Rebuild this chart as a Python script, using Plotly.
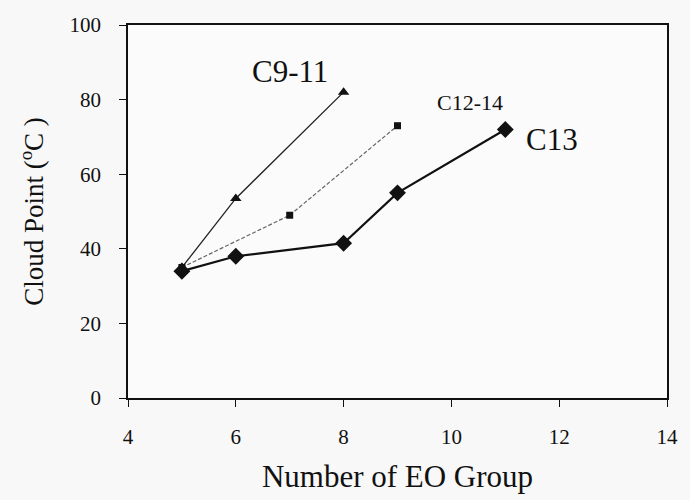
import plotly.graph_objects as go

# Cloud point vs. number of EO groups for three alcohol ethoxylates
eo_c9_11 = [5, 6, 8]
cp_c9_11 = [35, 53.5, 82]

eo_c12_14 = [5, 7, 9]
cp_c12_14 = [35, 49, 73]

eo_c13 = [5, 6, 8, 9, 11]
cp_c13 = [34, 38, 41.5, 55, 72]

x_ticks = [4, 6, 8, 10, 12, 14]
y_ticks = [0, 20, 40, 60, 80, 100]

FONT = "Liberation Serif, Times New Roman, serif"
INK = "#111111"

fig = go.Figure()

fig.add_trace(go.Scatter(
    x=eo_c9_11, y=cp_c9_11, mode="lines+markers", name="C9-11",
    line=dict(color="#222222", width=1.3),
    marker=dict(symbol="triangle-up", size=10, color=INK),
))
fig.add_trace(go.Scatter(
    x=eo_c12_14, y=cp_c12_14, mode="lines+markers", name="C12-14",
    line=dict(color="#666666", width=1.2, dash="4px,2px"),
    marker=dict(symbol="square", size=7, color=INK),
))
fig.add_trace(go.Scatter(
    x=eo_c13, y=cp_c13, mode="lines+markers", name="C13",
    line=dict(color=INK, width=2.2),
    marker=dict(symbol="diamond", size=13, color=INK),
))

# Series labels placed next to the curves
fig.add_annotation(x=7.0, y=87.5, text="C9-11", showarrow=False,
                   font=dict(family=FONT, size=31, color=INK))
fig.add_annotation(x=10.35, y=79.3, text="C12-14", showarrow=False,
                   font=dict(family=FONT, size=22, color=INK))
fig.add_annotation(x=11.35, y=69.3, text="C13", showarrow=False,
                   xanchor="left",
                   font=dict(family=FONT, size=31, color=INK))

axis_common = dict(
    showgrid=False, zeroline=False, showline=True, linecolor=INK,
    linewidth=1.6, mirror=True, ticks="outside", ticklen=7, tickwidth=1.2,
    tickcolor=INK, tickfont=dict(family=FONT, size=21, color=INK),
)

fig.update_xaxes(
    range=[4, 14], tickvals=x_ticks, ticklabelstandoff=12,
    title=dict(text="Number of EO Group", standoff=17,
               font=dict(family=FONT, size=31, color=INK)),
    **axis_common,
)
fig.update_yaxes(
    range=[0, 100], tickvals=y_ticks, ticklabelstandoff=14,
    title=dict(text="Cloud Point (<sup>o</sup>C )", standoff=18,
               font=dict(family=FONT, size=27, color=INK)),
    **axis_common,
)

fig.update_layout(
    width=690, height=500,
    margin=dict(l=128, r=13, t=25, b=102),
    paper_bgcolor="#f8f8f8", plot_bgcolor="#fbfbfb",
    showlegend=False,
    font=dict(family=FONT, color=INK),
)

fig.write_html("out.html")
